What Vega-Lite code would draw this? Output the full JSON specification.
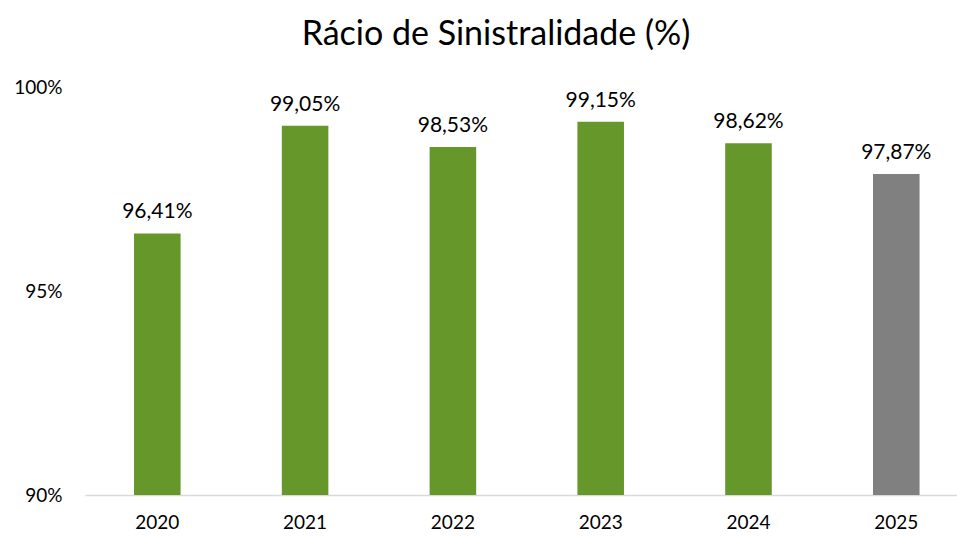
{
  "$schema": "https://vega.github.io/schema/vega-lite/v6.json",
  "width": 872,
  "height": 408,
  "autosize": {"type": "none"},
  "padding": {"left": 85, "top": 87, "right": 0, "bottom": 41},
  "background": "white",
  "config": {
    "view": {"stroke": null},
    "font": "Lato",
    "locale": {"number": {"decimal": ",", "thousands": ".", "grouping": [3], "currency": ["", " €"], "percent": "%"}}
  },
  "title": {
    "text": "Rácio de Sinistralidade (%)",
    "font": "Lato",
    "fontSize": 34,
    "fontWeight": "normal",
    "color": "#000000",
    "anchor": "middle",
    "dx": -25,
    "offset": 26
  },
  "data": {
    "values": [
      {"ano": "2020", "valor": 0.9641, "tipo": "real"},
      {"ano": "2021", "valor": 0.9905, "tipo": "real"},
      {"ano": "2022", "valor": 0.9853, "tipo": "real"},
      {"ano": "2023", "valor": 0.9915, "tipo": "real"},
      {"ano": "2024", "valor": 0.9862, "tipo": "real"},
      {"ano": "2025", "valor": 0.9787, "tipo": "prev"}
    ]
  },
  "encoding": {
    "x": {
      "field": "ano",
      "type": "nominal",
      "sort": null,
      "scale": {"paddingInner": 0.685, "paddingOuter": 0.2925, "align": 0.567},
      "axis": {
        "title": null,
        "labelAngle": 0,
        "labelFontSize": 19,
        "labelColor": "#000000",
        "labelPadding": 18,
        "ticks": false,
        "domainColor": "#d9d9d9",
        "domainWidth": 1.5
      }
    }
  },
  "layer": [
    {
      "mark": {"type": "bar"},
      "encoding": {
        "y": {
          "field": "valor",
          "type": "quantitative",
          "scale": {"domain": [0.9, 1], "zero": false, "nice": false},
          "axis": {
            "title": null,
            "format": ".0%",
            "values": [0.9, 0.95, 1],
            "grid": false,
            "domain": false,
            "ticks": false,
            "labelFontSize": 19,
            "labelColor": "#000000",
            "labelPadding": 23
          }
        },
        "y2": {"datum": 0.9},
        "color": {
          "field": "tipo",
          "type": "nominal",
          "scale": {"domain": ["real", "prev"], "range": ["#66972B", "#808080"]},
          "legend": null
        }
      }
    },
    {
      "mark": {"type": "text", "baseline": "bottom", "dy": -11, "fontSize": 21, "color": "#000000"},
      "encoding": {
        "y": {"field": "valor", "type": "quantitative"},
        "text": {"field": "valor", "type": "quantitative", "format": ".2%"}
      }
    }
  ]
}
